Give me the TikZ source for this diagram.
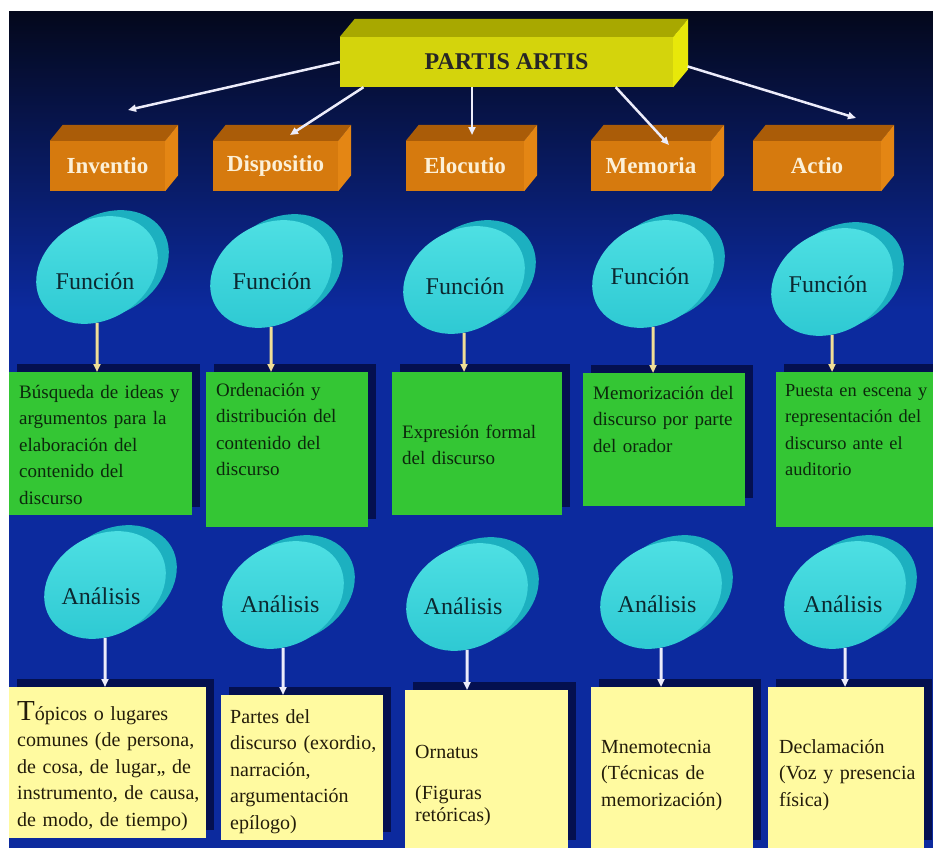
\documentclass[tikz,border=0pt]{standalone}
\usepackage{fontspec}
\setmainfont{Liberation Serif}
\usetikzlibrary{positioning,shapes.geometric,shadows,arrows.meta}

\definecolor{bgtop}{RGB}{4,8,28}
\definecolor{bgblue}{RGB}{12,42,158}
\definecolor{titlefront}{RGB}{212,212,12}
\definecolor{titletop}{RGB}{168,168,0}
\definecolor{titleside}{RGB}{232,232,10}
\definecolor{slabfront}{RGB}{214,122,14}
\definecolor{slabtop}{RGB}{170,92,8}
\definecolor{slabside}{RGB}{228,134,20}
\definecolor{slabtext}{RGB}{252,240,215}
\definecolor{diskface}{RGB}{44,200,210}
\definecolor{disklight}{RGB}{80,225,228}
\definecolor{diskrim}{RGB}{28,176,192}
\definecolor{disktext}{RGB}{12,40,48}
\definecolor{boxgreen}{RGB}{52,198,52}
\definecolor{greentext}{RGB}{12,40,12}
\definecolor{boxyellow}{RGB}{255,250,160}
\definecolor{yellowtext}{RGB}{35,28,10}
\definecolor{shadowblue}{RGB}{4,16,80}
\definecolor{arrowwhite}{RGB}{236,236,250}
\definecolor{arrowcream}{RGB}{240,222,150}

\begin{document}
\begin{tikzpicture}[x=1pt,y=-1pt,>={Triangle[length=8pt,width=7pt]},
  title/.style={rectangle,fill=titlefront,inner sep=0,minimum width=333pt,minimum height=50pt,font=\fontsize{24}{24}\selectfont\bfseries,text=black!85},
  slab/.style={rectangle,fill=slabfront,inner sep=0,minimum height=50pt,font=\fontsize{23}{23}\selectfont\bfseries,text=slabtext},
  disk/.style={ellipse,rotate=30,minimum width=128pt,minimum height=100pt,inner sep=0,top color=disklight,bottom color=diskface,drop shadow={shadow xshift=11pt,shadow yshift=6pt,fill=diskrim,opacity=1}},
  disklbl/.style={inner sep=0,font=\fontsize{24}{24}\selectfont,text=disktext},
  gbox/.style={rectangle,anchor=north west,inner sep=0,fill=boxgreen,drop shadow={shadow xshift=8pt,shadow yshift=8pt,fill=shadowblue,opacity=1}},
  ybox/.style={gbox,fill=boxyellow},
  gtext/.style={anchor=base west,inner sep=0,text width=190pt,align=left,font=\fontsize{19}{26.5}\selectfont,text=greentext},
  ytext/.style={gtext,font=\fontsize{20}{26.5}\selectfont,text=yellowtext},
  toparrow/.style={->,draw=arrowwhite,line width=2.5pt},
  funarrow/.style={->,draw=arrowcream,line width=3pt},
  anaarrow/.style={->,draw=arrowwhite,line width=3pt}]
 \useasboundingbox (0,0) rectangle (933,848);
 \fill[bgblue] (9,12) rectangle (933,848);
 \shade[top color=bgtop,bottom color=bgblue] (9,12) rectangle (933,310);

 % title block
 \node[title] (partis) at (506.5,62) {PARTIS ARTIS};
 \fill[titletop] (partis.north west) -- ++(15,-18) -- ([shift={(15,-18)}]partis.north east) -- (partis.north east) -- cycle;
 \fill[titleside] (partis.north east) -- ++(15,-18) -- ([shift={(15,-18)}]partis.south east) -- (partis.south east) -- cycle;

 % the five parts
 \node[slab,minimum width=115pt] (inv) at (107.5,166) {Inventio};
 \node[slab,minimum width=125pt] (dis) at (275.5,166) {Dispositio};
 \node[slab,minimum width=118pt] (elo) at (465,166) {Elocutio};
 \node[slab,minimum width=120pt] (mem) at (651,166) {Memoria};
 \node[slab,minimum width=128pt] (act) at (817,166) {Actio};
 \foreach \s in {inv,dis,elo,mem,act} {
  \fill[slabtop] (\s.north west) -- ++(13,-16) -- ([shift={(13,-16)}]\s.north east) -- (\s.north east) -- cycle;
  \fill[slabside] (\s.north east) -- ++(13,-16) -- ([shift={(13,-16)}]\s.south east) -- (\s.south east) -- cycle;
 }

 \coordinate (invtip) at (128,110);
 \coordinate (distip) at (290,135);
 \coordinate (elotip) at (472,135);
 \coordinate (memtip) at (669,145);
 \coordinate (acttip) at (856,118);
 \draw[toparrow] (partis.west) -- (invtip);
 \draw[toparrow] (partis.190) -- (distip);
 \draw[toparrow] (partis.south -| elotip) -- (elotip);
 \draw[toparrow] (partis.-13) -- (memtip);
 \draw[toparrow,shorten <=15pt] (partis.east) -- (acttip);

 % Funcion row
 \node[disk] (fun1) at (97,270) {};
 \node[disk] (fun2) at (271,274) {};
 \node[disk] (fun3) at (464,280) {};
 \node[disk] (fun4) at (653,274) {};
 \node[disk] (fun5) at (832,282) {};
 \node[disklbl] (funlbl1) at (95,281) {Función};
 \node[disklbl] (funlbl2) at (272,281) {Función};
 \node[disklbl] (funlbl3) at (465,286) {Función};
 \node[disklbl] (funlbl4) at (650,276) {Función};
 \node[disklbl] (funlbl5) at (828,284) {Función};

 \node[gbox,minimum width=183pt,minimum height=143pt] (g1) at (9,372) {};
 \node[gbox,minimum width=162pt,minimum height=155pt] (g2) at (206,372) {};
 \node[gbox,minimum width=170pt,minimum height=143pt] (g3) at (392,372) {};
 \node[gbox,minimum width=162pt,minimum height=133pt] (g4) at (583,373) {};
 \node[gbox,minimum width=157pt,minimum height=155pt] (g5) at (776,372) {};
 \node[gtext] (gt1) at (19,398) {Búsqueda de ideas y\\argumentos para la\\elaboración del\\contenido del\\discurso};
 \node[gtext] (gt2) at (216,396) {Ordenación y\\distribución del\\contenido del\\discurso};
 \node[gtext] (gt3) at (402,438) {Expresión formal\\del discurso};
 \node[gtext] (gt4) at (593,399) {Memorización del\\discurso por parte\\del orador};
 \node[gtext,font=\fontsize{18.4}{26.5}\selectfont] (gt5) at (785,396) {Puesta en escena y\\representación del\\discurso ante el\\auditorio};

 \draw[funarrow] (fun1) -- (fun1 |- g1.north);
 \draw[funarrow] (fun2) -- (fun2 |- g2.north);
 \draw[funarrow] (fun3) -- (fun3 |- g3.north);
 \draw[funarrow] (fun4) -- (fun4 |- g4.north);
 \draw[funarrow] (fun5) -- (fun5 |- g5.north);

 % Analisis row
 \node[disk] (ana1) at (105,585) {};
 \node[disk] (ana2) at (283,595) {};
 \node[disk] (ana3) at (467,597) {};
 \node[disk] (ana4) at (661,595) {};
 \node[disk] (ana5) at (845,595) {};
 \node[disklbl] (analbl1) at (101,596) {Análisis};
 \node[disklbl] (analbl2) at (280,604) {Análisis};
 \node[disklbl] (analbl3) at (463,606) {Análisis};
 \node[disklbl] (analbl4) at (657,604) {Análisis};
 \node[disklbl] (analbl5) at (843,604) {Análisis};

 \node[ybox,minimum width=197pt,minimum height=151pt] (y1) at (9,687) {};
 \node[ybox,minimum width=162pt,minimum height=145pt] (y2) at (221,695) {};
 \node[ybox,minimum width=163pt,minimum height=158pt] (y3) at (405,690) {};
 \node[ybox,minimum width=162pt,minimum height=161pt] (y4) at (591,687) {};
 \node[ybox,minimum width=156pt,minimum height=161pt] (y5) at (768,687) {};
 \node[ytext] (yt1) at (17,720) {{\fontsize{29}{26.5}\selectfont T}ópicos o lugares\\comunes (de persona,\\de cosa, de lugar,, de\\instrumento, de causa,\\de modo, de tiempo)};
 \node[ytext] (yt2) at (230,723) {Partes del\\discurso (exordio,\\narración,\\argumentación\\epílogo)};
 \node[ytext,font=\fontsize{20}{22}\selectfont] (yt3) at (415,758) {Ornatus\\[19pt](Figuras\\retóricas)};
 \node[ytext] (yt4) at (601,753) {Mnemotecnia\\(Técnicas de\\memorización)};
 \node[ytext] (yt5) at (779,753) {Declamación\\(Voz y presencia\\física)};

 \draw[anaarrow] (ana1) -- (ana1 |- y1.north);
 \draw[anaarrow] (ana2) -- (ana2 |- y2.north);
 \draw[anaarrow] (ana3) -- (ana3 |- y3.north);
 \draw[anaarrow] (ana4) -- (ana4 |- y4.north);
 \draw[anaarrow] (ana5) -- (ana5 |- y5.north);
\end{tikzpicture}
\end{document}
